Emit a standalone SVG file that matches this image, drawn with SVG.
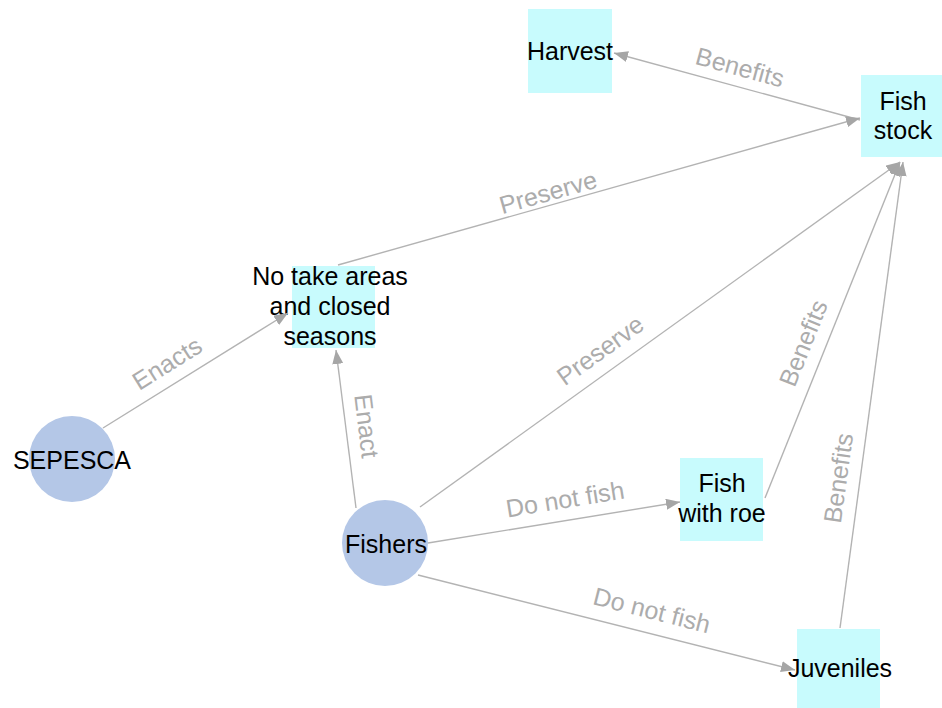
<svg xmlns="http://www.w3.org/2000/svg" width="942" height="708" viewBox="0 0 942 708">
<style>
.box{fill:#c8fbfd}
.circ{fill:#b4c7e7}
.nt{font-family:"Liberation Sans",Arial,sans-serif;font-size:25px;fill:#000;text-anchor:middle}
.edge{stroke:#b3b3b3;stroke-width:1.4;fill:none;marker-end:url(#ah)}
.lbl{font-family:"Liberation Sans",Arial,sans-serif;font-size:25px;fill:#acacac;text-anchor:middle;dominant-baseline:central}
</style>
<defs>
<marker id="ah" viewBox="0 0 14 11" refX="14" refY="5.5" markerWidth="14" markerHeight="11" markerUnits="userSpaceOnUse" orient="auto">
<path d="M0,0 L14,5.5 L0,11 z" fill="#a6a6a6"/>
</marker>
</defs>
<rect width="942" height="708" fill="#fff"/>
<g id="nodes-bg">
<g id="harvest"><rect class="box" x="528" y="9" width="84" height="84"/><text class="nt" x="570" y="60">Harvest</text></g>
<g id="fishstock"><rect class="box" x="861" y="75" width="81" height="82"/><text class="nt" x="903" y="110">Fish</text><text class="nt" x="903" y="139">stock</text></g>
<g id="notake"><rect class="box" x="292" y="266" width="83" height="82"/><text class="nt" x="330" y="285">No take areas</text><text class="nt" x="330" y="315">and closed</text><text class="nt" x="330" y="345">seasons</text></g>
<g id="sepesca"><circle class="circ" cx="72" cy="459" r="43"/><text class="nt" x="72" y="469">SEPESCA</text></g>
<g id="fishers"><circle class="circ" cx="385" cy="543" r="43"/><text class="nt" x="386" y="553">Fishers</text></g>
<g id="fishroe"><rect class="box" x="680" y="458" width="83" height="83"/><text class="nt" x="722" y="492">Fish</text><text class="nt" x="722" y="522">with roe</text></g>
<g id="juveniles"><rect class="box" x="797" y="629" width="83" height="79"/><text class="nt" x="840" y="677">Juveniles</text></g>
</g>
<g id="connectors">
<line class="edge" x1="860" y1="120" x2="614" y2="53"/>
<line class="edge" x1="338" y1="265" x2="860" y2="118"/>
<line class="edge" x1="103" y1="428" x2="288" y2="313"/>
<line class="edge" x1="356" y1="508" x2="336" y2="350"/>
<line class="edge" x1="420" y1="507" x2="900" y2="162"/>
<line class="edge" x1="428" y1="543" x2="680" y2="502"/>
<line class="edge" x1="418" y1="575" x2="795" y2="670"/>
<line class="edge" x1="765" y1="498" x2="900" y2="162"/>
<line class="edge" x1="840" y1="628" x2="903" y2="162"/>
<text class="lbl" transform="translate(740,67) rotate(15.2)">Benefits</text>
<text class="lbl" transform="translate(548,192) rotate(-15.7)">Preserve</text>
<text class="lbl" transform="translate(167,363) rotate(-32)">Enacts</text>
<text class="lbl" transform="translate(367,426) rotate(83)">Enact</text>
<text class="lbl" transform="translate(600,350) rotate(-35.7)">Preserve</text>
<text class="lbl" transform="translate(565,499) rotate(-9.2)">Do not fish</text>
<text class="lbl" transform="translate(652,610) rotate(14.2)">Do not fish</text>
<text class="lbl" transform="translate(803,343) rotate(-68)">Benefits</text>
<text class="lbl" transform="translate(838,478) rotate(-82)">Benefits</text>
</g>
</svg>
